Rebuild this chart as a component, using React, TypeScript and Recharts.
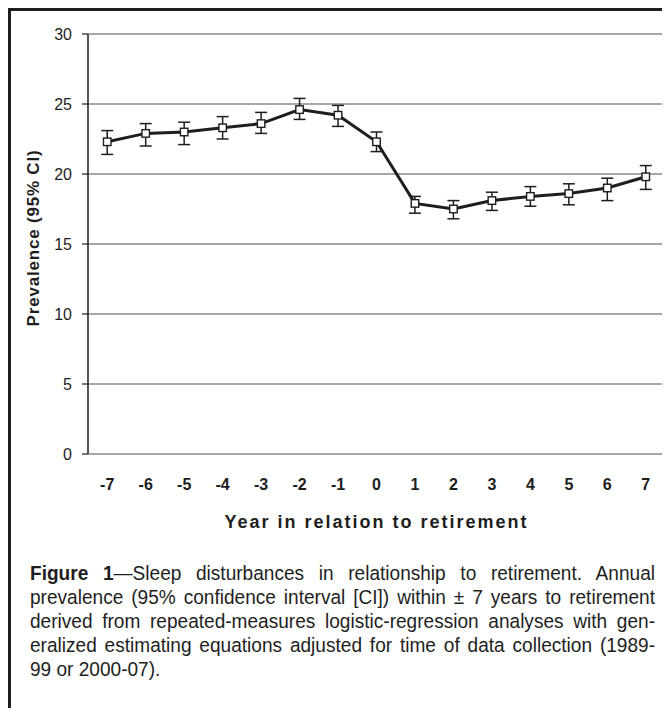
import { CartesianGrid, ComposedChart, ErrorBar, Line, ReferenceLine, XAxis, YAxis } from "recharts";

const years = [-7, -6, -5, -4, -3, -2, -1, 0, 1, 2, 3, 4, 5, 6, 7];
const prevalence = [22.3, 22.9, 23.0, 23.3, 23.6, 24.6, 24.2, 22.3, 17.9, 17.5, 18.1, 18.4, 18.6, 19.0, 19.8];
const ciLower = [21.4, 22.0, 22.1, 22.5, 22.9, 23.9, 23.4, 21.6, 17.2, 16.8, 17.4, 17.7, 17.8, 18.1, 18.9];
const ciUpper = [23.1, 23.6, 23.7, 24.1, 24.4, 25.4, 24.9, 23.0, 18.4, 18.1, 18.7, 19.1, 19.3, 19.7, 20.6];
const yTicks = [0, 5, 10, 15, 20, 25, 30];
const yearEdges = [-7.5, -6.5, -5.5, -4.5, -3.5, -2.5, -1.5, -0.5, 0.5, 1.5, 2.5, 3.5, 4.5, 5.5, 6.5, 7.5];

const data = years.map((year, i) => ({
  year,
  prev: prevalence[i],
  ci: [prevalence[i] - ciLower[i], ciUpper[i] - prevalence[i]],
}));

const FONT = "'Liberation Sans', Arial, sans-serif";
const INK = "#1e1e1e";
const CAPTION_SCALE = 0.93;

const SquareDot = (props: any) => {
  const { cx, cy, index } = props;
  if (cx == null || cy == null) return null;
  return <rect key={index} x={cx - 3.75} y={cy - 3.75} width={7.5} height={7.5} fill="#fff" stroke={INK} strokeWidth={1.4} />;
};

// rotated y title, nudged a little above the plot's middle like the original
const YTitle = ({ viewBox }: any) => {
  const cx = viewBox.x + 25;
  const cy = viewBox.y + viewBox.height / 2 - 6;
  return (
    <text
      x={cx}
      y={cy}
      transform={`rotate(-90 ${cx} ${cy})`}
      textAnchor="middle"
      dominantBaseline="central"
      fill={INK}
      fontSize={17}
      fontWeight={700}
      style={{ letterSpacing: "0.8px" }}
    >
      Prevalence (95% CI)
    </text>
  );
};

const captionLines = [
  "—Sleep disturbances in relationship to retirement. Annual",
  "prevalence (95% confidence interval [CI]) within ± 7 years to retirement",
  "derived from repeated-measures logistic-regression analyses with gen-",
  "eralized estimating equations adjusted for time of data collection (1989-",
  "99 or 2000-07).",
];

export default function App() {
  return (
    <div style={{ position: "relative", width: 662, height: 700 }}>
      <style>{"html,body{overflow:hidden}"}</style>
      <div
        style={{
          position: "absolute",
          left: 0,
          top: 0,
          width: 700,
          height: 760,
          borderTop: `3px solid ${INK}`,
          borderLeft: `3px solid ${INK}`,
        }}
      />
      <div style={{ position: "absolute", left: 0, top: 0 }}>
        <ComposedChart
          width={662}
          height={540}
          data={data}
          margin={{ top: 26, right: 5, left: 0, bottom: 0 }}
          style={{ fontFamily: FONT }}
        >
          <CartesianGrid vertical={false} stroke="#8a8a8a" strokeWidth={1.5} />
          <XAxis
            xAxisId="marks"
            type="number"
            dataKey="year"
            domain={[-7.5, 7.5]}
            ticks={yearEdges}
            tickFormatter={() => ""}
            height={0}
            tickSize={6}
            axisLine={{ stroke: INK, strokeWidth: 1.5 }}
            tickLine={{ stroke: INK, strokeWidth: 1.2 }}
            interval={0}
          />
          <XAxis
            type="number"
            dataKey="year"
            domain={[-7.5, 7.5]}
            ticks={years}
            interval={0}
            height={94}
            axisLine={false}
            tickLine={false}
            tickSize={0}
            tickMargin={25}
            tick={{ fill: INK, fontSize: 16, fontWeight: 700 }}
            label={{
              value: "Year in relation to retirement",
              position: "insideBottom",
              offset: 20,
              fill: INK,
              fontSize: 18,
              fontWeight: 700,
              style: { letterSpacing: "2px" },
            }}
          />
          <YAxis
            width={80}
            domain={[0, 30]}
            ticks={yTicks}
            interval={0}
            tickSize={6}
            tickMargin={10}
            axisLine={{ stroke: INK, strokeWidth: 1.5 }}
            tickLine={{ stroke: INK, strokeWidth: 1.2 }}
            tick={{ fill: INK, fontSize: 16 }}
            label={{ content: <YTitle /> }}
          />
          <ReferenceLine x={7.5} stroke="#8a8a8a" strokeWidth={1.5} />
          <Line
            dataKey="prev"
            stroke={INK}
            strokeWidth={3}
            dot={<SquareDot />}
            activeDot={false}
            isAnimationActive={false}
          >
            <ErrorBar dataKey="ci" direction="y" width={6} stroke={INK} strokeWidth={1.5} isAnimationActive={false} />
          </Line>
        </ComposedChart>
      </div>
      <div
        style={{
          position: "absolute",
          left: 22,
          top: 553,
          width: 625 / CAPTION_SCALE,
          transform: `scaleX(${CAPTION_SCALE})`,
          transformOrigin: "0 0",
          fontFamily: FONT,
          fontSize: 20.5,
          lineHeight: "24px",
          color: INK,
        }}
      >
        {captionLines.map((line, i) => (
          <div
            key={i}
            style={{
              textAlign: i < captionLines.length - 1 ? "justify" : "left",
              textAlignLast: i < captionLines.length - 1 ? "justify" : "left",
              whiteSpace: "nowrap",
            }}
          >
            {i === 0 && <b>Figure 1</b>}
            {line}
          </div>
        ))}
      </div>
    </div>
  );
}
